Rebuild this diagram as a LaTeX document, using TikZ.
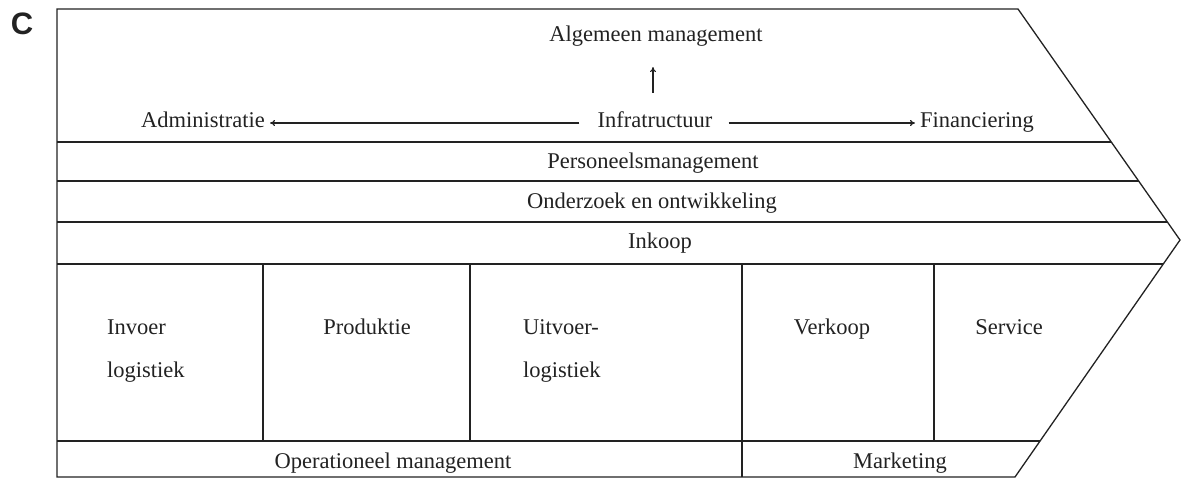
\documentclass[tikz,border=0pt]{standalone}
\usepackage{fontspec}
\setmainfont{Liberation Serif}
\newfontfamily\labelfont{Liberation Sans}
\usetikzlibrary{arrows.meta}
\definecolor{ink}{HTML}{222222}
\begin{document}
\begin{tikzpicture}[x=1pt,y=-1pt,
  frame/.style={draw=ink,line width=1.3pt},
  lbl/.style={inner sep=0pt,anchor=base,text=ink,font=\fontsize{22.5}{27}\selectfont},
  lbll/.style={lbl,anchor=base west},
  arr/.style={draw=ink,line width=1.1pt,-{To[length=5pt,width=6pt]}}]
\useasboundingbox (0,0) rectangle (1184,484);
% letter
\node[inner sep=0pt,text=ink,font=\labelfont\bfseries\fontsize{31}{34}\selectfont] (C) at (22,24) {C};
% outline
\draw[frame,line join=miter] (57,9) -- (1018,9) -- (1180,240) -- (1015,477) -- (57,477) -- cycle;
% horizontal rows
\draw[frame] (57,142) -- (1111.3,142);
\draw[frame] (57,181) -- (1138.6,181);
\draw[frame] (57,222) -- (1167.4,222);
\draw[frame] (57,264) -- (1163.3,264);
\draw[frame] (57,441) -- (1040.1,441);
% vertical dividers
\draw[frame] (263,264) -- (263,441);
\draw[frame] (470,264) -- (470,441);
\draw[frame] (742,264) -- (742,477);
\draw[frame] (934,264) -- (934,441);
% support activities
\node[lbl] (alg) at (656,42) {Algemeen management};
\node[lbl] (infra) at (655,128) {Infratructuur};
\node[lbl,anchor=base east] (admin) at (265,128) {Administratie};
\node[lbll] (fin) at (920,128) {Financiering};
\draw[arr] ([xshift=-18pt,yshift=5pt]infra.base west) -- ([xshift=5pt,yshift=5pt]admin.base east);
\draw[arr] ([xshift=16pt,yshift=5pt]infra.base east) -- ([xshift=-5pt,yshift=5pt]fin.base west);
\draw[arr,shorten <=19pt,shorten >=20pt] ([xshift=-2pt]infra.north) -- ([xshift=-3pt]alg.south);
\node[lbl] (pers) at (653,168) {Personeelsmanagement};
\node[lbl] (ow) at (652,208) {Onderzoek en ontwikkeling};
\node[lbl] (ink) at (660,248) {Inkoop};
% primary activities
\node[lbll] (inv1) at (107,334) {Invoer};
\node[lbll] (inv2) at (107,377) {logistiek};
\node[lbl] (prod) at (367,334) {Produktie};
\node[lbll] (uit1) at (523,334) {Uitvoer-};
\node[lbll] (uit2) at (523,377) {logistiek};
\node[lbl] (verk) at (832,334) {Verkoop};
\node[lbl] (serv) at (1009,334) {Service};
\node[lbl] (opm) at (393,468) {Operationeel management};
\node[lbl] (mark) at (900,468) {Marketing};
\end{tikzpicture}
\end{document}
